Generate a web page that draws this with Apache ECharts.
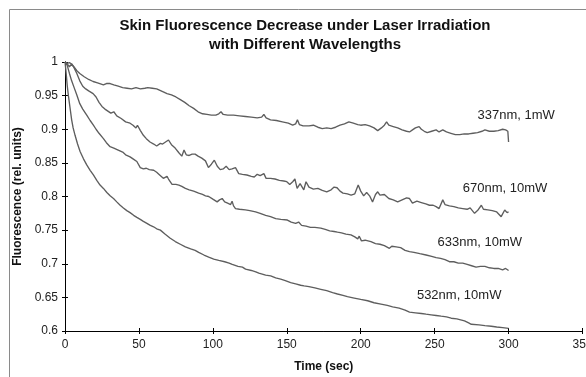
<!DOCTYPE html>
<html>
<head>
<meta charset="utf-8">
<script src="https://cdn.jsdelivr.net/npm/echarts@6/dist/echarts.min.js"></script>
<style>html,body{margin:0;padding:0;background:#fff;}#c{width:586px;height:377px;}</style>
</head>
<body>
<div id="c"></div>
<script>
var titleLines = ['Skin Fluorescence Decrease under Laser Irradiation', 'with Different Wavelengths'];
var xName = 'Time (sec)';
var yName = 'Fluorescence (rel. units)';
var xTicks = [0, 50, 100, 150, 200, 250, 300, 350];
var yTicks = [0.6, 0.65, 0.7, 0.75, 0.8, 0.85, 0.9, 0.95, 1];
var seriesNames = ['337nm, 1mW', '670nm, 10mW', '633nm, 10mW', '532nm, 10mW'];
var labelAnchors = [[279, 0.921], [269, 0.8125], [252, 0.731], [238, 0.653]];

var s337 = [[0,1.0],[1.5,0.997],[3,0.993],[4.5,0.997],[6,0.993],[8,0.987],[10,0.983],[13,0.978],[16,0.974],[19,0.971],[22,0.969],[26,0.966],[28,0.968],[30.5,0.968],[33,0.966],[36,0.964],[39,0.962],[42,0.961],[45,0.960],[48,0.962],[51,0.960],[54,0.961],[56,0.962],[59,0.961],[62,0.960],[65,0.957],[69,0.953],[72,0.951],[75,0.948],[78,0.944],[81,0.940],[84,0.935],[87,0.931],[90,0.926],[93,0.923],[96,0.922],[99,0.921],[102,0.921],[104,0.923],[105.5,0.926],[107,0.922],[110,0.921],[114,0.921],[118,0.920],[122,0.919],[126,0.918],[130,0.917],[133,0.918],[134.5,0.922],[136,0.917],[139,0.914],[143,0.913],[147,0.911],[151,0.909],[154,0.906],[156,0.908],[157.2,0.914],[158.5,0.907],[161,0.905],[165,0.905],[168,0.906],[171,0.903],[174,0.901],[177,0.902],[180,0.901],[183,0.903],[186,0.906],[189,0.908],[192,0.911],[195,0.909],[198,0.907],[200,0.906],[203,0.907],[206,0.905],[209,0.902],[211.5,0.898],[214,0.902],[216,0.906],[217.5,0.911],[219,0.906],[222,0.904],[225,0.902],[228,0.899],[231,0.897],[233,0.896],[235,0.899],[237,0.902],[239.5,0.904],[241,0.900],[243,0.897],[245,0.895],[248,0.897],[251,0.899],[253,0.896],[255.5,0.899],[258,0.896],[261,0.894],[264,0.892],[267,0.892],[270,0.893],[273,0.893],[276,0.894],[279,0.895],[282,0.897],[284,0.899],[287,0.897],[290,0.897],[293,0.898],[296,0.900],[298,0.899],[299.5,0.897],[300,0.881]];

var s670 = [[0,1.0],[1.5,0.998],[3,0.999],[4.5,0.997],[6,0.992],[8,0.983],[10,0.972],[12,0.964],[14,0.960],[16,0.957],[19,0.953],[21,0.948],[23,0.940],[25,0.934],[27,0.930],[29,0.927],[31,0.924],[33,0.926],[35,0.920],[38,0.916],[41,0.911],[44,0.909],[46,0.906],[48,0.902],[49,0.906],[51,0.898],[53,0.891],[55,0.886],[57.5,0.881],[60,0.878],[62,0.875],[64.5,0.879],[66,0.878],[68,0.881],[70,0.884],[72,0.877],[74.5,0.872],[77,0.865],[79,0.860],[80.5,0.869],[82,0.862],[84,0.861],[86,0.863],[88,0.863],[90,0.860],[92.5,0.857],[95,0.853],[97,0.843],[99,0.848],[101,0.854],[103,0.845],[105,0.840],[107,0.841],[109,0.845],[111,0.840],[113,0.841],[115.3,0.843],[117.5,0.834],[120,0.833],[123,0.832],[126,0.830],[128,0.829],[130,0.833],[132,0.831],[134.5,0.834],[136,0.827],[139,0.827],[142,0.826],[145,0.824],[148,0.823],[150,0.822],[152,0.818],[154,0.822],[155.5,0.826],[157,0.812],[159,0.819],[161.5,0.810],[163,0.822],[165,0.814],[168,0.811],[171,0.812],[174,0.809],[177,0.807],[180,0.810],[182,0.814],[184,0.813],[186,0.808],[188,0.805],[191,0.804],[193.5,0.802],[196,0.804],[198.3,0.817],[200,0.808],[202,0.801],[204,0.806],[206,0.801],[208,0.792],[210,0.803],[211.5,0.807],[213,0.802],[216,0.803],[219,0.797],[222,0.795],[225,0.792],[228,0.795],[231,0.798],[233,0.797],[235,0.790],[238,0.793],[241,0.791],[244,0.789],[246.5,0.787],[249,0.787],[251,0.785],[253,0.782],[255.5,0.795],[257,0.788],[260,0.786],[263,0.785],[266,0.783],[269,0.782],[272,0.781],[274,0.783],[277,0.775],[279,0.779],[281.6,0.787],[283,0.781],[286,0.780],[289,0.779],[292,0.777],[295,0.770],[297.4,0.780],[299,0.776],[300,0.777]];

var s633 = [[0,1.0],[1.5,0.995],[3,0.983],[4.5,0.972],[6,0.963],[8,0.951],[10,0.938],[12,0.930],[14.7,0.921],[17,0.913],[19.2,0.906],[21,0.900],[23,0.894],[26,0.886],[28,0.880],[30.5,0.874],[33,0.872],[36,0.869],[39,0.866],[41,0.862],[44,0.859],[46,0.856],[48.6,0.852],[50.9,0.843],[53,0.841],[55,0.842],[57,0.840],[60,0.839],[62,0.836],[64,0.832],[66.5,0.827],[69,0.830],[70,0.826],[72.4,0.818],[75,0.818],[77,0.817],[79,0.815],[81.4,0.812],[84,0.810],[87,0.808],[90.4,0.805],[93,0.803],[95,0.801],[97.2,0.800],[100,0.796],[102.9,0.792],[104.5,0.795],[106.3,0.797],[108,0.792],[110,0.790],[112,0.788],[113,0.793],[114,0.786],[115.3,0.782],[118,0.781],[122,0.780],[125,0.779],[128.9,0.777],[132,0.775],[135.7,0.772],[139,0.770],[142.5,0.767],[146,0.766],[150.4,0.765],[153,0.762],[156,0.760],[158,0.762],[160,0.757],[163,0.756],[166,0.754],[169,0.754],[173,0.753],[176,0.751],[179,0.749],[182,0.748],[184.3,0.747],[187,0.746],[190,0.744],[193.4,0.743],[196,0.740],[198,0.737],[199,0.741],[200.5,0.734],[203,0.735],[206.9,0.733],[210,0.730],[213,0.729],[216,0.727],[219.4,0.723],[221,0.726],[224,0.725],[227,0.724],[230,0.720],[233,0.718],[236,0.717],[240,0.715],[244.2,0.713],[248,0.711],[251,0.709],[254,0.708],[257,0.706],[260,0.703],[263,0.703],[266,0.701],[269,0.701],[272,0.699],[275,0.697],[278,0.695],[281,0.696],[284,0.696],[287,0.694],[290,0.693],[293,0.693],[296,0.691],[298,0.693],[300,0.690]];

var s532 = [[0,1.0],[0.5,0.99],[1,0.978],[1.5,0.965],[2.3,0.950],[3.4,0.932],[4.5,0.914],[5.5,0.902],[6.8,0.891],[8.5,0.878],[10.2,0.867],[12.5,0.856],[14.7,0.847],[17,0.839],[19.2,0.832],[21.5,0.824],[23.7,0.817],[26,0.812],[28.3,0.806],[30.5,0.801],[32.8,0.797],[35,0.792],[37.3,0.787],[39.5,0.783],[41.8,0.779],[44,0.776],[46.4,0.772],[48.6,0.769],[50.9,0.766],[53,0.763],[55.4,0.760],[57.7,0.757],[59.9,0.755],[62,0.752],[64.5,0.750],[67.8,0.744],[71.2,0.738],[74.6,0.733],[78,0.729],[81.4,0.725],[85,0.722],[88,0.720],[90.4,0.717],[94,0.713],[97.2,0.710],[100.6,0.707],[104,0.705],[108,0.703],[111,0.701],[113.1,0.699],[117,0.696],[120,0.695],[122.1,0.692],[126,0.690],[129,0.688],[131.1,0.686],[135.7,0.683],[139.1,0.682],[142.5,0.679],[145.9,0.677],[149,0.675],[152.6,0.672],[156,0.670],[159.4,0.668],[161.7,0.667],[165,0.666],[169,0.664],[173,0.662],[177,0.660],[181,0.657],[184.3,0.655],[188,0.653],[191,0.651],[195.6,0.649],[200,0.647],[204.7,0.645],[209,0.642],[213.7,0.640],[218,0.638],[221.6,0.636],[226,0.634],[230,0.631],[233,0.628],[237,0.627],[241,0.626],[244.2,0.625],[247.6,0.624],[251,0.623],[254.4,0.622],[258,0.621],[261.2,0.619],[265,0.618],[270.2,0.615],[273,0.612],[274.8,0.610],[280,0.609],[284,0.608],[288.3,0.607],[292,0.606],[296,0.605],[300,0.604]];

var allSeries = [s337, s670, s633, s532];

var chart = echarts.init(document.getElementById('c'), null, {renderer: 'canvas'});
var font = 'Liberation Sans, Arial, sans-serif';
var xMin = xTicks[0], xMax = xTicks[xTicks.length - 1], xInt = xTicks[1] - xTicks[0];
var yMin = yTicks[0], yMax = yTicks[yTicks.length - 1], yInt = 0.05;

function xAx(inside, show) {
  return {
    type: 'value', min: xMin, max: xMax, interval: xInt, position: 'bottom',
    name: show ? xName : '', nameLocation: 'middle', nameGap: 30,
    nameTextStyle: {fontFamily: font, fontSize: 12, fontWeight: 'bold', color: '#111', verticalAlign: 'top'},
    axisLine: {show: true, onZero: false, lineStyle: {color: '#000', width: 1}},
    axisTick: {show: true, inside: inside, length: 3, lineStyle: {color: '#000'}},
    axisLabel: {show: show, fontFamily: font, fontSize: 12, color: '#222', margin: 8, hideOverlap: false},
    splitLine: {show: false}
  };
}
function yAx(inside, show) {
  return {
    type: 'value', min: yMin, max: yMax, interval: yInt, position: 'left',
    name: show ? yName : '', nameLocation: 'middle', nameGap: 29, nameRotate: 90,
    nameTextStyle: {fontFamily: font, fontSize: 12, fontWeight: 'bold', color: '#111'},
    axisLine: {show: true, onZero: false, lineStyle: {color: '#000', width: 1}},
    axisTick: {show: true, inside: inside, length: 3, lineStyle: {color: '#000'}},
    axisLabel: {show: show, fontFamily: font, fontSize: 12, color: '#222', margin: 7,
      formatter: function (v) { return String(+v.toFixed(2)); }},
    splitLine: {show: false}
  };
}

var option = {
  animation: false,
  backgroundColor: '#fff',
  grid: {left: 65, right: 3.5, top: 62, bottom: 46, containLabel: false, outerBoundsMode: 'none'},
  xAxis: [xAx(false, true), xAx(true, false)],
  yAxis: [yAx(false, true), yAx(true, false)],
  series: allSeries.map(function (d, i) {
    return {
      type: 'line', name: seriesNames[i], data: d, xAxisIndex: 0, yAxisIndex: 0,
      showSymbol: false, smooth: false,
      lineStyle: {color: '#5e5e5e', width: 1.35}
    };
  })
};
chart.setOption(option);

var g = [
  {type: 'rect', shape: {x: 9.5, y: 9.5, width: 700, height: 500}, style: {fill: 'none', stroke: '#8a8a8a', lineWidth: 1}, silent: true}
];
var titleCx = 305;
titleLines.forEach(function (t, i) {
  g.push({type: 'text', x: titleCx, y: 26 + i * 19,
    style: {text: t, font: 'bold 15px ' + font, fill: '#111', textAlign: 'center', textVerticalAlign: 'middle'}});
});
labelAnchors.forEach(function (a, i) {
  var p = chart.convertToPixel({xAxisIndex: 0, yAxisIndex: 0}, a);
  g.push({type: 'text', x: p[0], y: p[1],
    style: {text: seriesNames[i], font: '13px ' + font, fill: '#222', textAlign: 'left', textVerticalAlign: 'middle'}});
});
chart.setOption({graphic: g});
</script>
</body>
</html>
